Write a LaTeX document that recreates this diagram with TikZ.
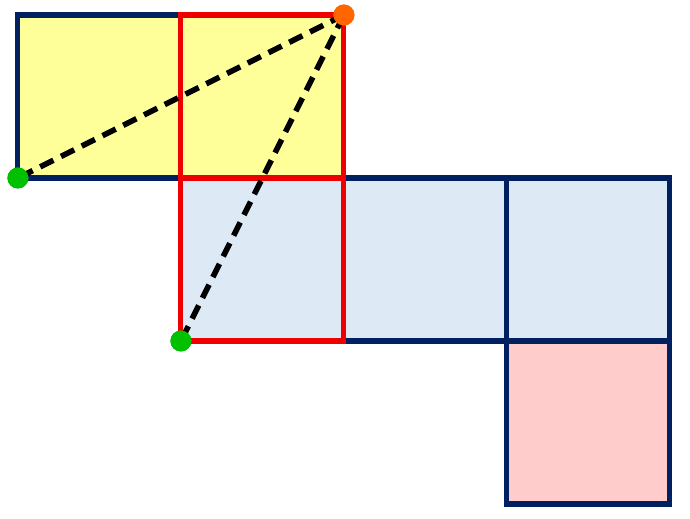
\documentclass[tikz,border=0pt]{standalone}
\usepackage{xcolor}
\usepackage{tikz}
\definecolor{cellyellow}{RGB}{255,255,153}
\definecolor{cellblue}{RGB}{222,233,246}
\definecolor{cellpink}{RGB}{255,204,204}
\definecolor{edgeblue}{RGB}{0,32,96}
\definecolor{edgered}{RGB}{238,0,0}
\definecolor{dotgreen}{RGB}{0,192,0}
\definecolor{dotorange}{RGB}{255,102,0}
\begin{document}
\begin{tikzpicture}[x=1.63cm, y=1.63cm,
  cell/.style={draw=edgeblue, line width=1.45pt},
  redcell/.style={draw=edgered, line width=1.45pt},
  diag/.style={black, line width=1.6pt, dash pattern=on 4.2pt off 2.4pt},
  dot/.style={circle, inner sep=0pt, minimum size=0.21cm}]
  \useasboundingbox (-0.110,-0.086) rectangle (4.123,3.092);
  \draw[cell, fill=cellyellow] (0,2) rectangle (1,3);
  \draw[cell, fill=cellyellow] (1,2) rectangle (2,3);
  \draw[cell, fill=cellblue] (1,1) rectangle (2,2);
  \draw[cell, fill=cellblue] (2,1) rectangle (3,2);
  \draw[cell, fill=cellblue] (3,1) rectangle (4,2);
  \draw[cell, fill=cellpink] (3,0) rectangle (4,1);
  \draw[redcell] (1,2) rectangle (2,3);
  \draw[redcell] (1,1) rectangle (2,2);
  \node[dot, fill=dotorange] (apex) at (2,3) {};
  \node[dot, fill=dotgreen] (left) at (0,2) {};
  \node[dot, fill=dotgreen] (low) at (1,1) {};
  \draw[diag] (apex.center) -- (left.center);
  \draw[diag] (apex.center) -- (low.center);
  \node[dot, fill=dotorange] at (apex) {};
  \node[dot, fill=dotgreen] at (left) {};
  \node[dot, fill=dotgreen] at (low) {};
\end{tikzpicture}
\end{document}
